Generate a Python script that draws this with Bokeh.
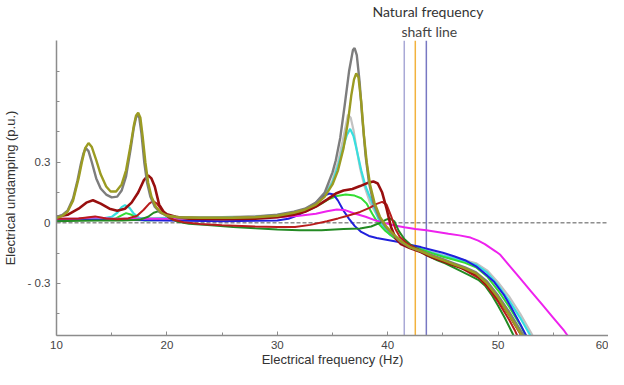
from bokeh.plotting import figure
from bokeh.models import Span, FixedTicker, Range1d, CustomJSTickFormatter, Title
from bokeh.embed import file_html
from bokeh.resources import INLINE

# ---------------- data ----------------
gray_f = [10, 10.5, 11, 11.5, 11.9, 12.2, 12.45, 12.65, 12.9, 13.2, 13.6, 14.0, 14.5, 15.0, 15.5, 15.9, 16.3, 16.7,
          17.0, 17.2, 17.35, 17.5, 17.7, 17.95, 18.2, 18.5, 18.9, 19.4, 20.0, 21, 23, 26, 28, 30, 31.5, 32.5, 33.5,
          34.3, 35.0, 35.3, 35.7, 36.1, 36.5, 36.85, 37.0, 37.2, 37.45, 37.7, 38.0, 38.3, 38.7, 39.2, 39.8, 40.5,
          41.2, 42.0, 43.0, 44.0, 45.0, 46.0, 47.0, 48.0, 49.0, 50.0, 51.0, 52.0, 52.7, 53.1]
gray_v = [0.03, 0.038, 0.06, 0.12, 0.21, 0.29, 0.345, 0.37, 0.355, 0.3, 0.22, 0.17, 0.14, 0.126, 0.13, 0.16, 0.23, 0.36,
          0.47, 0.52, 0.535, 0.52, 0.44, 0.3, 0.2, 0.13, 0.08, 0.05, 0.035, 0.028, 0.026, 0.027, 0.03, 0.04, 0.055, 0.07,
          0.1, 0.15, 0.25, 0.31, 0.42, 0.58, 0.75, 0.855, 0.865, 0.83, 0.7, 0.52, 0.33, 0.2, 0.1, 0.03, -0.02, -0.06,
          -0.095, -0.12, -0.14, -0.16, -0.18, -0.2, -0.22, -0.245, -0.29, -0.36, -0.44, -0.53, -0.59, -0.63]

olive_f = [10, 10.5, 11, 11.5, 12.0, 12.3, 12.6, 12.9, 13.2, 13.6, 14.0, 14.5, 14.9, 15.4, 15.9, 16.3, 16.7, 17.0, 17.2,
           17.4, 17.6, 17.8, 18.05, 18.3, 18.6, 19.0, 19.5, 20.0, 21, 23, 26, 28, 30, 31.5, 32.5, 33.5, 34.3, 35.0,
           35.5, 36.0, 36.4, 36.7, 36.95, 37.15, 37.35, 37.6, 37.85, 38.1, 38.4, 38.8, 39.3, 39.9, 40.6, 41.3, 42.0,
           43.0, 44.0, 45.0, 46.0, 47.0, 48.0, 49.0, 50.0, 51.0, 52.0, 52.6, 53.0]
olive_v = [0.025, 0.033, 0.055, 0.11, 0.22, 0.3, 0.37, 0.395, 0.375, 0.31, 0.24, 0.18, 0.155, 0.155, 0.19, 0.26, 0.38,
           0.48, 0.53, 0.545, 0.52, 0.43, 0.3, 0.2, 0.13, 0.08, 0.05, 0.035, 0.028, 0.025, 0.025, 0.028, 0.035, 0.05,
           0.065, 0.09, 0.13, 0.19, 0.26, 0.37, 0.5, 0.63, 0.71, 0.74, 0.72, 0.6, 0.43, 0.3, 0.19, 0.1, 0.03, -0.02,
           -0.06, -0.095, -0.12, -0.14, -0.165, -0.185, -0.205, -0.225, -0.25, -0.3, -0.37, -0.455, -0.545, -0.59, -0.63]

lgray_f = [10, 15, 20, 25, 30, 31.5, 32.5, 33.5, 34.3, 35.0, 35.5, 35.9, 36.2, 36.4, 36.65, 36.9, 37.2, 37.5, 37.9, 38.4,
           39.0, 39.6, 40.3, 41.2, 42.0, 43.0, 44.0, 45.0, 46.0, 47.0, 48.0, 49.0, 50.0, 51.0, 52.0, 53.0, 53.4, 53.8]
lgray_v = [0.02, 0.02, 0.025, 0.028, 0.038, 0.052, 0.068, 0.1, 0.14, 0.21, 0.3, 0.4, 0.48, 0.535, 0.52, 0.46, 0.36, 0.27,
           0.18, 0.1, 0.04, -0.01, -0.055, -0.09, -0.11, -0.13, -0.145, -0.16, -0.172, -0.185, -0.2, -0.235, -0.295,
           -0.365, -0.45, -0.545, -0.59, -0.635]

cyan_f = [10, 12, 14, 15, 15.5, 15.9, 16.2, 16.6, 17.0, 17.5, 18.5, 20, 24, 28, 30, 31.5, 32.5, 33.5, 34.3, 35.0, 35.5,
          35.9, 36.3, 36.6, 36.9, 37.2, 37.6, 38.0, 38.7, 39.3, 40.2, 41.3, 42.0, 43.0, 44.0, 45.0, 46.0, 47.0, 48.0,
          49.0, 50.0, 51.0, 52.0, 53.0, 53.3, 53.7]
cyan_v = [0.015, 0.015, 0.02, 0.03, 0.05, 0.078, 0.088, 0.075, 0.045, 0.025, 0.02, 0.025, 0.025, 0.03, 0.038, 0.05,
          0.065, 0.095, 0.135, 0.2, 0.28, 0.36, 0.435, 0.465, 0.43, 0.36, 0.26, 0.18, 0.085, 0.0, -0.058, -0.095,
          -0.113, -0.13, -0.148, -0.163, -0.177, -0.19, -0.207, -0.245, -0.31, -0.385, -0.47, -0.565, -0.59, -0.63]

lime_f = [10, 14, 15.3, 15.8, 16.3, 16.8, 17.3, 18.0, 20, 25, 30, 31.5, 32.5, 33.3, 34.0, 34.7, 35.4, 36.2, 37.0, 37.6,
          38.1, 38.6, 39.1, 39.8, 40.6, 41.5, 42.3, 43.0, 44.0, 45.0, 46.0, 47.0, 48.0, 49.0, 50.0, 51.0, 52.0, 52.8,
          53.2]
lime_v = [0.012, 0.015, 0.02, 0.035, 0.048, 0.04, 0.02, 0.012, 0.015, 0.02, 0.03, 0.042, 0.055, 0.075, 0.095, 0.118,
          0.133, 0.14, 0.135, 0.122, 0.095, 0.045, 0.0, -0.04, -0.075, -0.1, -0.115, -0.13, -0.15, -0.168, -0.183,
          -0.198, -0.22, -0.265, -0.335, -0.415, -0.505, -0.59, -0.635]

blue_f = [10, 15, 20, 25, 30, 31, 32, 32.8, 33.5, 34.1, 34.7, 35.1, 35.5, 36.0, 36.5, 37.0, 37.6, 38.3, 39.0, 40.0,
          41.0, 42.0, 43.0, 44.0, 45.0, 46.0, 47.0, 48.0, 49.0, 49.6, 50.5, 51.1, 52.0, 52.8, 53.2]
blue_v = [0.015, 0.015, 0.012, 0.008, 0.012, 0.02, 0.04, 0.07, 0.1, 0.13, 0.145, 0.14, 0.11, 0.06, 0.02, -0.015,
          -0.045, -0.065, -0.075, -0.085, -0.095, -0.108, -0.12, -0.134, -0.148, -0.165, -0.185, -0.215, -0.26,
          -0.29, -0.355, -0.41, -0.5, -0.585, -0.63]

magenta_f = [10, 12, 13.5, 15, 17, 20, 25, 28, 30, 32, 33.5, 34.5, 35.4, 36.2, 37.0, 38.0, 39.0, 39.7, 40.5, 41.5,
             42.5, 43.5, 44.5, 45.5, 46.5, 47.5, 48.2, 48.8, 49.3, 49.8, 50.2, 51.0, 52.0, 53.0, 54.0, 55.0, 56.0,
             56.7, 57.2]
magenta_v = [0.02, 0.022, 0.028, 0.02, 0.02, 0.02, 0.022, 0.025, 0.028, 0.035, 0.045, 0.057, 0.066, 0.062, 0.046,
             0.03, 0.01, 0.0, -0.012, -0.022, -0.03, -0.037, -0.045, -0.054, -0.062, -0.073, -0.088, -0.105, -0.124,
             -0.142, -0.158, -0.21, -0.275, -0.34, -0.405, -0.47, -0.535, -0.59, -0.63]

darkred_f = [10, 11, 12, 12.7, 13.3, 14.0, 14.8, 15.5, 16.2, 16.8, 17.4, 17.9, 18.3, 18.6, 18.9, 19.3, 19.7, 20.0, 20.8,
             22, 25, 28, 30, 31.5, 32.5, 33.5, 34.5, 35.3, 36.0, 36.8, 37.5, 38.2, 38.7, 39.1, 39.5, 39.9, 40.3, 40.7,
             41.2, 42.0, 43.0, 44.0, 45.0, 46.0, 47.0, 48.0, 49.0, 50.0, 51.0, 52.0, 52.3, 52.7]
darkred_v = [0.03, 0.04, 0.07, 0.1, 0.112, 0.095, 0.07, 0.06, 0.07, 0.1, 0.15, 0.21, 0.235, 0.22, 0.18, 0.09, 0.055,
             0.042, 0.03, 0.02, 0.018, 0.02, 0.028, 0.04, 0.055, 0.08, 0.115, 0.145, 0.16, 0.168, 0.182, 0.198, 0.205,
             0.195, 0.15, 0.07, -0.02, -0.075, -0.105, -0.125, -0.145, -0.17, -0.19, -0.21, -0.23, -0.255, -0.305,
             -0.375, -0.455, -0.545, -0.59, -0.63]

red_f = [10, 12, 13.5, 14.5, 15.5, 16.5, 17.3, 17.9, 18.4, 18.75, 19.1, 19.5, 20.0, 20.6, 21.5, 23, 25, 28, 30, 31.6, 33,
         34.5, 35.5, 36.3, 37.5, 38.4, 39.0, 39.5, 39.9, 40.3, 40.7, 41.1, 41.7, 42.5, 43.5, 44.5, 45.5, 46.5, 47.5,
         48.3, 49.0, 50.0, 51.0, 51.5, 52.0, 52.4]
red_v = [0.02, 0.022, 0.032, 0.022, 0.018, 0.022, 0.035, 0.065, 0.095, 0.108, 0.095, 0.065, 0.035, 0.015, 0.003,
         -0.006, -0.012, -0.018, -0.02, -0.02, -0.01, 0.008, 0.022, 0.034, 0.054, 0.075, 0.094, 0.104, 0.09, 0.035,
         -0.03, -0.07, -0.1, -0.125, -0.15, -0.175, -0.198, -0.218, -0.25, -0.275, -0.315, -0.39, -0.48, -0.53,
         -0.59, -0.635]

green_f = [10, 12, 14, 16, 17.5, 18.3, 18.8, 19.2, 19.6, 20.2, 21, 22, 24, 26, 28, 30, 32, 34, 36, 37.5, 38.5, 39.3,
           39.9, 40.2, 40.6, 41.0, 41.5, 42.0, 42.5, 43.5, 44.5, 45.2, 46.5, 47.5, 48.2, 48.8, 49.4, 50.0, 50.6, 51.2,
           51.7, 52.1]
green_v = [0.008, 0.01, 0.012, 0.012, 0.015, 0.03, 0.05, 0.057, 0.05, 0.025, 0.005, -0.005, -0.012, -0.02, -0.027,
           -0.033, -0.037, -0.036, -0.03, -0.028, -0.018, 0.0, 0.017, 0.022, 0.008, -0.04, -0.08, -0.105, -0.125,
           -0.16, -0.185, -0.2, -0.235, -0.262, -0.282, -0.31, -0.355, -0.41, -0.47, -0.535, -0.59, -0.635]

shaft_line_freqs = [41.5, 42.5, 43.5]
x_ticks = [10, 20, 30, 40, 50, 60]
x_minor_ticks = [15, 25, 35, 45, 55]
y_ticks = [-0.3, 0, 0.3]
y_minor_ticks = [-0.45, -0.15, 0.15, 0.45, 0.6, 0.75]

# ---------------- figure ----------------
p = figure(width=608, height=369, x_range=Range1d(10, 60), y_range=Range1d(-0.5575, 0.9025),
           output_backend="svg", toolbar_location=None,
           min_border_left=49, min_border_right=-10, min_border_top=35, min_border_bottom=30)
p.outline_line_color = None
p.xgrid.visible = False
p.ygrid.visible = False
p.background_fill_color = "white"

# reference lines
p.add_layout(Span(location=0, dimension="width", line_color="#555555", line_width=1,
                  line_dash="4 2", level="underlay"))
for fq, col in zip(shaft_line_freqs, ["#a9a9d6", "#f2b23e", "#7878c2"]):
    p.add_layout(Span(location=fq, dimension="height", line_color=col, line_width=1.5, level="underlay"))

series = [
    (lgray_f, lgray_v, "#c2c2c2", 2.2),
    (cyan_f, cyan_v, "#38dede", 2.2),
    (lime_f, lime_v, "#33dd33", 2.0),
    (blue_f, blue_v, "#2020dc", 2.0),
    (magenta_f, magenta_v, "#ee22ee", 2.0),
    (green_f, green_v, "#238a23", 2.0),
    (red_f, red_v, "#b81c1c", 2.0),
    (darkred_f, darkred_v, "#980f0f", 2.6),
    (gray_f, gray_v, "#7d7d7d", 2.4),
    (olive_f, olive_v, "#9b9b22", 2.4),
]
for fx, fy, col, w in series:
    p.line(fx, fy, line_color=col, line_width=w)

# axes
for ax in (p.xaxis[0], p.yaxis[0]):
    ax.axis_line_color = "#8c8c8c"
    ax.axis_line_width = 1.5
    ax.major_tick_line_color = "#8c8c8c"
    ax.minor_tick_line_color = "#8c8c8c"
    ax.major_tick_in = 4
    ax.major_tick_out = 0
    ax.minor_tick_in = 3
    ax.minor_tick_out = 0
    ax.major_label_text_font = "Liberation Sans"
    ax.major_label_text_font_size = "11.5px"
    ax.major_label_text_color = "#444444"
    ax.axis_label_text_font = "Liberation Sans"
    ax.axis_label_text_font_size = "13px"
    ax.axis_label_text_font_style = "normal"
    ax.axis_label_text_color = "#333333"

p.xaxis.ticker = FixedTicker(ticks=x_ticks, minor_ticks=x_minor_ticks)
p.yaxis.ticker = FixedTicker(ticks=y_ticks, minor_ticks=y_minor_ticks)
p.yaxis.formatter = CustomJSTickFormatter(code="""
    if (Math.abs(tick) < 1e-9) { return '0'; }
    return tick < 0 ? '- ' + Math.abs(tick).toFixed(1) : tick.toFixed(1);
""")
p.xaxis.axis_label = "Electrical frequency (Hz)"
p.yaxis.axis_label = "Electrical undamping (p.u.)"
p.xaxis.major_label_standoff = 5
p.xaxis.axis_label_standoff = 0
p.yaxis.major_label_standoff = 6
p.yaxis.axis_label_standoff = 6

# annotation above the shaft lines (stacked titles: first added is nearest the frame)
p.add_layout(Title(text="shaft line", align="left", offset=345, text_font="Lato", text_font_size="14px",
                   text_font_style="normal", text_color="#444444", standoff=2), "above")
p.add_layout(Title(text="Natural frequency", align="left", offset=316, text_font="Lato", text_font_size="14px",
                   text_font_style="normal", text_color="#333333", standoff=0), "above")

open("out.html", "w").write(file_html(p, INLINE))
